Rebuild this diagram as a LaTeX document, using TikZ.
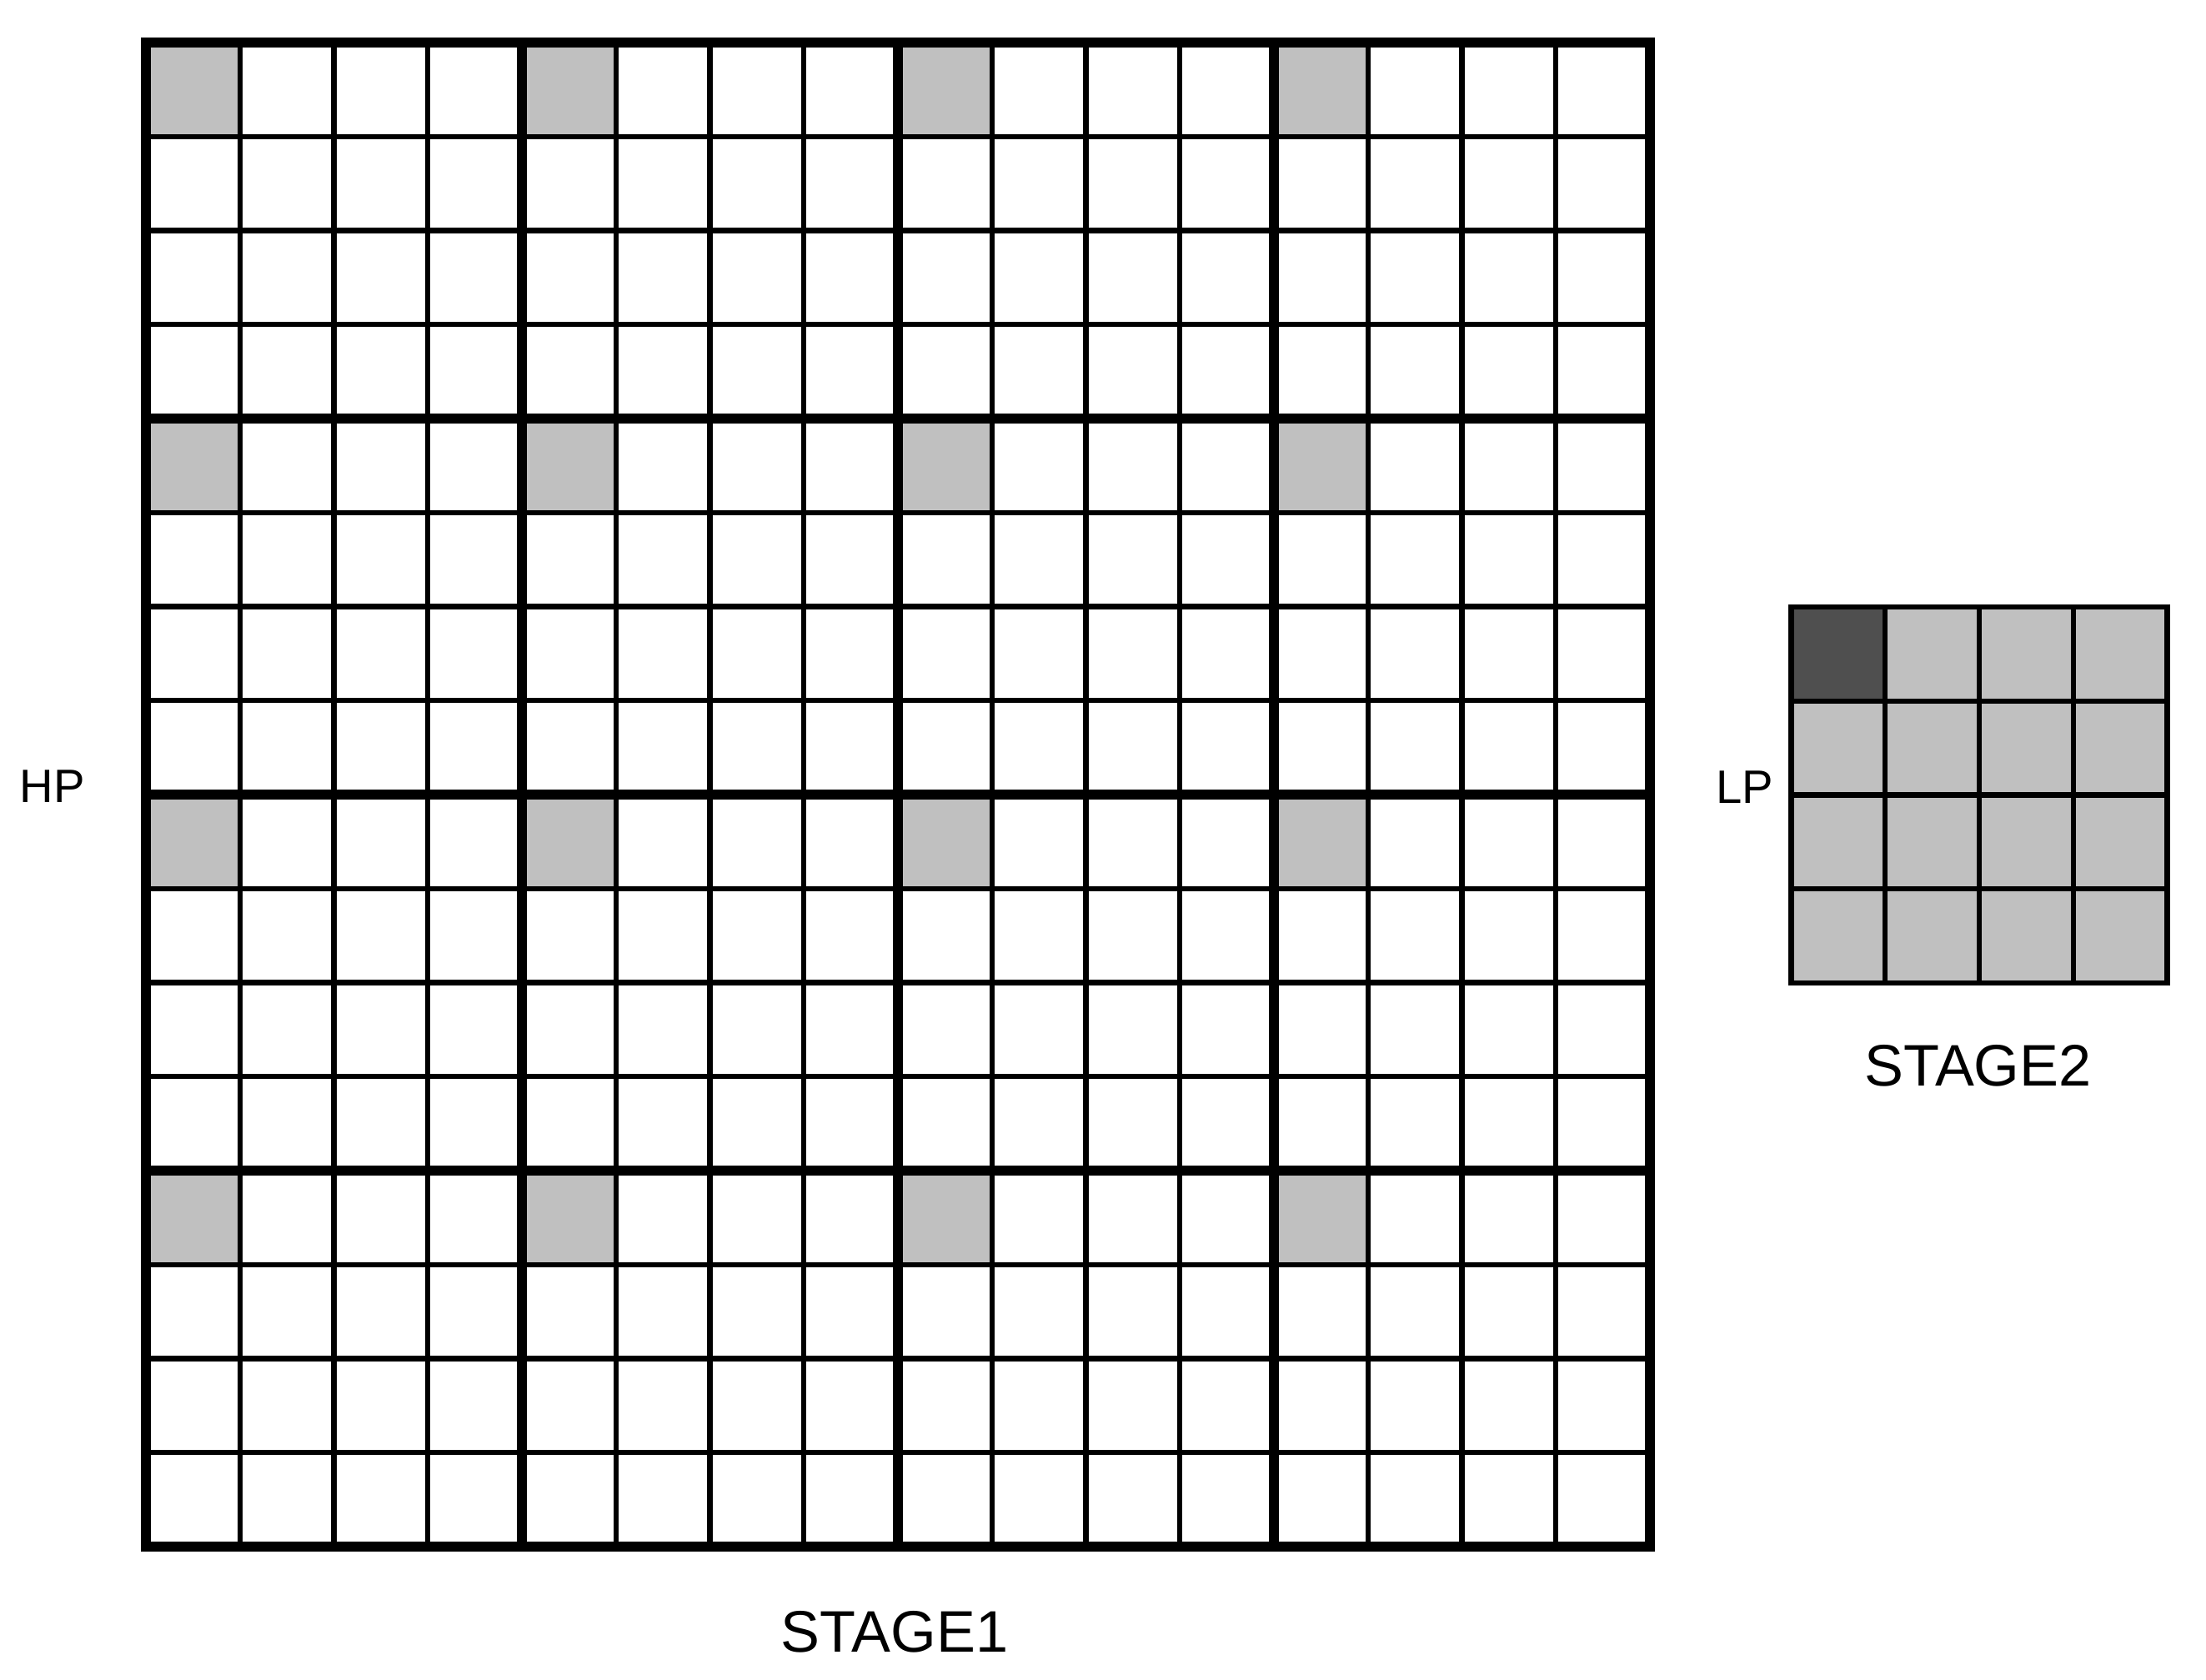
\documentclass[tikz,border=0pt]{standalone}
\usepackage{fontspec}
\setmainfont{Liberation Sans}
\usetikzlibrary{positioning}

\definecolor{cellgray}{HTML}{C0C0C0}
\definecolor{darkcell}{HTML}{4F4F4F}

\tikzset{
    thinline/.style={line width=1.75pt},
    thickline/.style={line width=3.4pt},
    sidelabel/.style={font=\fontsize{16}{19}\selectfont, inner sep=0pt},
    stagelabel/.style={font=\fontsize{20}{24}\selectfont, inner sep=0pt}
}

\begin{document}
\begin{tikzpicture}
        \useasboundingbox (0,0) rectangle (26.46,20.14);
        % stage 1: 16x16 cells in 4x4 blocks
        \begin{scope}[shift={(1.75,19.63)}, x=1.1275cm, y=-1.1275cm]
            \foreach \r in {0,4,8,12}
                \foreach \c in {0,4,8,12}
                    \fill[cellgray] (\c,\r) rectangle ++(1,1);
            \foreach \k in {1,...,15} {
                \draw[thinline] (\k,0) -- (\k,16);
                \draw[thinline] (0,\k) -- (16,\k);
            }
            \foreach \k in {4,8,12} {
                \draw[thickline] (\k,0) -- (\k,16);
                \draw[thickline] (0,\k) -- (16,\k);
            }
            \draw[thickline] (0,0) rectangle (16,16);
        \end{scope}
        % stage 2: 4x4 cells
        \begin{scope}[shift={(21.485,12.86)}, x=1.1275cm, y=-1.1275cm]
            \fill[cellgray] (0,0) rectangle (4,4);
            \fill[darkcell] (0,0) rectangle (1,1);
            \foreach \k in {1,2,3} {
                \draw[thinline] (\k,0) -- (\k,4);
                \draw[thinline] (0,\k) -- (4,\k);
            }
            \draw[thinline] (0,0) rectangle (4,4);
        \end{scope}
        \node[sidelabel] (hp) at (0.63,10.71) {HP};
        \node[sidelabel] (lp) at (20.93,10.70) {LP};
        \node[stagelabel] (stage1) at (10.73,0.57) {STAGE1};
        \node[stagelabel] (stage2) at (23.725,7.355) {STAGE2};
    \end{tikzpicture}
\end{document}
